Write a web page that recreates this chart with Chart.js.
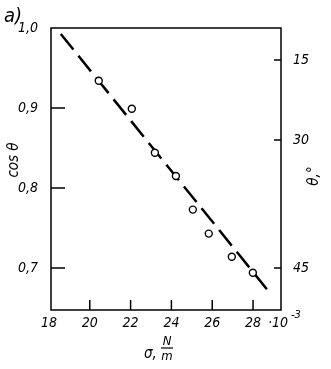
<!DOCTYPE html>
<html lang="ru">
  <head>
    <meta charset="UTF-8" />
    <title>cos theta vs sigma</title>
    <script src="https://cdn.jsdelivr.net/npm/chart.js"></script>
    <style>
      body {
        margin: 0;
        background: #fff;
      }
      .chart-box {
        width: 331px;
        height: 369px;
      }
    </style>
  </head>
  <body>
    <div class="chart-box">
      <canvas id="myChart" width="331" height="369"></canvas>
    </div>
    <script>
      // surface tension sigma (x10^-3 N/m) and measured cos(theta)
      const sigma = [20.44, 22.06, 23.19, 24.22, 25.05, 25.83, 26.96, 27.99];
      const cosTheta = [0.934, 0.899, 0.844, 0.815, 0.773, 0.743, 0.714, 0.694];
      // dashed fit line, end points
      const fitSigma = [18.58, 28.87];
      const fitCos = [0.9925, 0.6675];
      // axes
      const xTicks = [18, 20, 22, 24, 26, 28];
      const yTicks = [0.7, 0.8, 0.9, 1.0];
      const thetaTicks = [15, 30, 45];
      const thetaTickCos = [0.96, 0.86, 0.7]; // where the theta ticks sit on the cos scale

      const FONT = '"DejaVu Sans Condensed", "DejaVu Sans", sans-serif';
      const tickFont = { family: FONT, size: 14, style: "italic" };

      const extras = {
        id: "extras",
        afterDraw(chart) {
          const c = chart.ctx;
          const a = chart.chartArea;
          c.save();
          c.strokeStyle = "#000";
          c.fillStyle = "#000";
          c.lineWidth = 1.5;
          c.strokeRect(a.left, a.top, a.right - a.left, a.bottom - a.top);

          // inward tick marks
          c.beginPath();
          const sx = chart.scales.x;
          xTicks.forEach((v) => {
            const px = sx.getPixelForValue(v);
            if (px <= a.left + 1) return;
            c.moveTo(px, a.bottom);
            c.lineTo(px, a.bottom - 10);
          });
          const sy = chart.scales.y;
          yTicks.forEach((v) => {
            const py = sy.getPixelForValue(v);
            if (py <= a.top + 1) return;
            c.moveTo(a.left, py);
            c.lineTo(a.left + 14, py);
          });
          const sy2 = chart.scales.y2;
          thetaTickCos.forEach((v) => {
            const py = sy2.getPixelForValue(v);
            c.moveTo(a.right, py);
            c.lineTo(a.right - 7, py);
          });
          c.stroke();

          c.textBaseline = "alphabetic";
          c.textAlign = "left";
          c.font = "italic 20px " + FONT;
          c.fillText("a)", 4, 22);

          // ·10^-3 after the last x tick
          c.font = "italic 14px " + FONT;
          c.fillText("·10", 268, 327);
          c.font = "italic 11px " + FONT;
          c.fillText("-3", 291, 318);

          // x title: sigma, N/m
          c.font = "italic 15px " + FONT;
          c.fillText("σ,", 144, 358);
          c.textAlign = "center";
          c.font = "italic 13px " + FONT;
          c.fillText("N", 167, 345);
          c.fillText("m", 167, 360);
          c.beginPath();
          c.lineWidth = 1.2;
          c.moveTo(161, 348);
          c.lineTo(173, 348);
          c.stroke();

          // rotated axis titles
          c.font = "italic 15px " + FONT;
          c.textBaseline = "middle";
          c.save();
          c.translate(14, 160);
          c.rotate(-Math.PI / 2);
          c.fillText("cos θ", 0, 0);
          c.restore();
          c.save();
          c.translate(314, 176);
          c.rotate(-Math.PI / 2);
          c.fillText("θ,°", 0, 0);
          c.restore();
          c.restore();
        },
      };

      const ctx = document.getElementById("myChart");
      const myChart = new Chart(ctx, {
        type: "scatter",
        data: {
          datasets: [
            {
              label: "fit",
              type: "line",
              data: fitSigma.map((x, i) => ({ x: x, y: fitCos[i] })),
              borderColor: "#000",
              borderWidth: 2.5,
              borderDash: [20, 8],
              pointRadius: 0,
              fill: false,
              order: 2,
            },
            {
              label: "cos θ",
              data: sigma.map((x, i) => ({ x: x, y: cosTheta[i] })),
              pointRadius: 3.5,
              pointBorderWidth: 1.4,
              pointBackgroundColor: "#fff",
              pointBorderColor: "#000",
              order: 1,
            },
          ],
        },
        options: {
          responsive: false,
          animation: false,
          layout: { padding: { top: 28, left: 0, right: 0, bottom: 0 } },
          plugins: {
            legend: { display: false },
            tooltip: { enabled: false },
          },
          scales: {
            x: {
              type: "linear",
              position: "bottom",
              min: 18.1,
              max: 29.37,
              grid: { display: false },
              border: { display: false },
              afterBuildTicks: (s) => {
                s.ticks = xTicks.map((v) => ({ value: v }));
              },
              afterFit: (s) => {
                s.height = 59;
              },
              ticks: {
                color: "#000",
                font: tickFont,
                padding: -3,
                maxRotation: 0,
                autoSkip: false,
                callback: (v) => String(v),
              },
            },
            y: {
              type: "linear",
              position: "left",
              min: 0.6475,
              max: 1.0,
              grid: { display: false },
              border: { display: false },
              afterBuildTicks: (s) => {
                s.ticks = yTicks.map((v) => ({ value: v }));
              },
              afterFit: (s) => {
                s.width = 51;
              },
              ticks: {
                color: "#000",
                font: tickFont,
                padding: 5,
                autoSkip: false,
                callback: (v) => v.toFixed(1).replace(".", ","),
              },
            },
            y2: {
              type: "linear",
              position: "right",
              min: 0.6475,
              max: 1.0,
              grid: { display: false },
              border: { display: false },
              afterBuildTicks: (s) => {
                s.ticks = thetaTickCos.map((v) => ({ value: v }));
              },
              afterFit: (s) => {
                s.width = 50;
              },
              ticks: {
                color: "#000",
                font: tickFont,
                padding: 4,
                autoSkip: false,
                callback: (v, i) => String(thetaTicks[i]),
              },
            },
          },
        },
        plugins: [extras],
      });
    </script>
  </body>
</html>
